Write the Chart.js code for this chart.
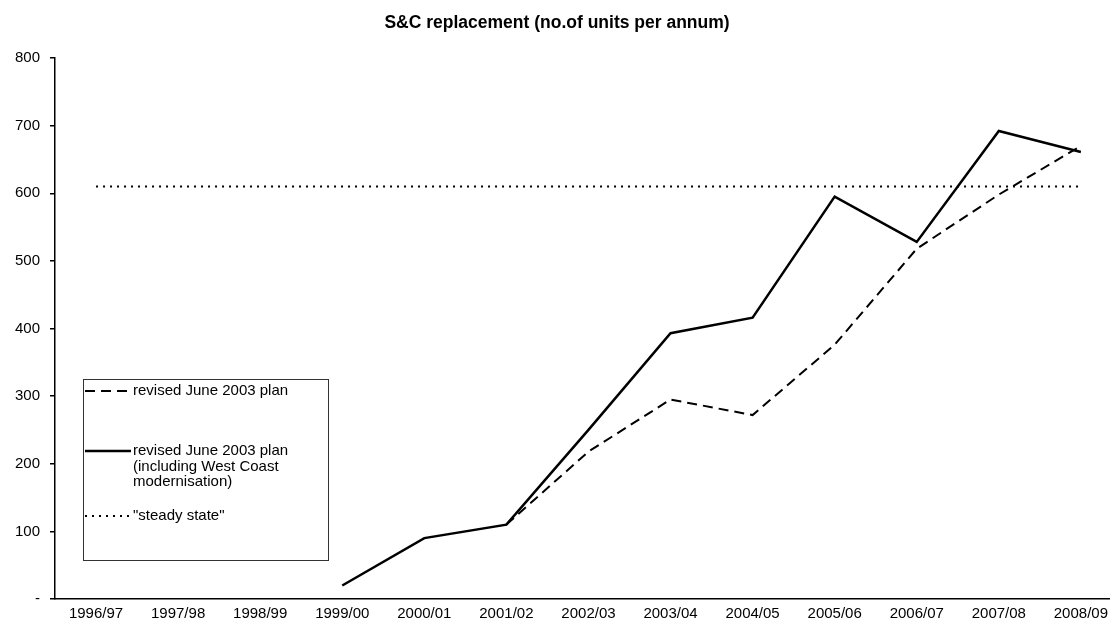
<!DOCTYPE html>
<html>
<head>
<meta charset="utf-8">
<script src="https://cdn.jsdelivr.net/npm/chart.js@4"></script>
<style>
  html, body { margin: 0; padding: 0; background: #fff; }
</style>
</head>
<body>
<canvas id="chart" width="1114" height="631"></canvas>
<script>
const years = ['1996/97', '1997/98', '1998/99', '1999/00', '2000/01', '2001/02', '2002/03',
  '2003/04', '2004/05', '2005/06', '2006/07', '2007/08', '2008/09'];
const revisedPlan = [null, null, null, null, null, 110, 218, 295, 272, 376, 518, 598, 670];
const revisedPlanWestCoast = [null, null, null, 20, 90, 110, 250, 393, 416, 595, 528, 692, 661];
const steadyState = [610, 610, 610, 610, 610, 610, 610, 610, 610, 610, 610, 610, 610];
const yTicks = [0, 100, 200, 300, 400, 500, 600, 700, 800];

const FONT = "'Liberation Sans', Arial, sans-serif";

function toPoints(values) {
  return values.map(function(v, i) { return {x: i, y: v}; });
}

function wrapText(ctx, text, maxWidth) {
  const words = text.split(' ');
  const lines = [];
  let line = '';
  words.forEach(function(w) {
    const test = line ? line + ' ' + w : w;
    if (line && ctx.measureText(test).width > maxWidth) {
      lines.push(line);
      line = w;
    } else {
      line = test;
    }
  });
  if (line) lines.push(line);
  return lines;
}

// boxed legend sitting inside the plot, lower left
const legendBox = {
  id: 'legendBox',
  afterDraw(chart) {
    const ctx = chart.ctx;
    const area = chart.chartArea;
    const left = area.left + 28;
    const top = area.top + 321;
    const w = 245, h = 181;
    const rows = [12, 72, 137];
    ctx.save();
    ctx.fillStyle = '#fff';
    ctx.fillRect(left, top, w, h);
    ctx.strokeStyle = '#333';
    ctx.lineWidth = 1;
    ctx.strokeRect(left + 0.5, top + 0.5, w, h);
    ctx.font = '15px ' + FONT;
    ctx.textBaseline = 'middle';
    chart.data.datasets.forEach(function(ds, i) {
      const y = top + rows[i];
      ctx.beginPath();
      ctx.setLineDash(ds.borderDash || []);
      ctx.lineWidth = ds.borderWidth;
      ctx.strokeStyle = ds.borderColor;
      ctx.moveTo(left + 2, y);
      ctx.lineTo(left + 48, y);
      ctx.stroke();
      ctx.setLineDash([]);
      ctx.fillStyle = '#000';
      wrapText(ctx, ds.label, 190).forEach(function(line, j) {
        ctx.fillText(line, left + 50, y + j * 15.5);
      });
    });
    ctx.restore();
  },
};

const ctx = document.getElementById('chart').getContext('2d');
const chart = new Chart(ctx, {
  type: 'line',
  data: {
    datasets: [
      {
        label: 'revised June 2003 plan',
        data: toPoints(revisedPlan),
        borderColor: '#000',
        borderWidth: 2,
        borderDash: [10, 6],
        pointRadius: 0,
      },
      {
        label: 'revised June 2003 plan (including West Coast modernisation)',
        data: toPoints(revisedPlanWestCoast),
        borderColor: '#000',
        borderWidth: 2.5,
        pointRadius: 0,
      },
      {
        label: '"steady state"',
        data: toPoints(steadyState),
        borderColor: '#000',
        borderWidth: 2,
        borderDash: [2, 5],
        pointRadius: 0,
      },
    ],
  },
  options: {
    responsive: false,
    animation: false,
    devicePixelRatio: 1,
    layout: {padding: 0},
    plugins: {
      legend: {display: false},
      tooltip: {enabled: false},
      title: {
        display: true,
        text: 'S&C replacement (no.of units per annum)',
        color: '#000',
        font: {family: FONT, size: 17.5, weight: 'bold'},
        padding: {top: 13, bottom: 24},
      },
    },
    scales: {
      x: {
        type: 'linear',
        min: -0.5,
        max: 12.35,
        afterBuildTicks: function(scale) {
          scale.ticks = years.map(function(_, i) { return {value: i}; });
        },
        afterFit: function(scale) { scale.height = 32; },
        grid: {display: false, drawTicks: false},
        border: {display: true, color: '#000', width: 1.5},
        ticks: {
          color: '#000',
          font: {family: FONT, size: 15},
          padding: 6,
          maxRotation: 0,
          autoSkip: false,
          callback: function(v) { return years[v] || ''; },
        },
      },
      y: {
        min: 0,
        max: 800,
        afterBuildTicks: function(scale) {
          scale.ticks = yTicks.map(function(v) { return {value: v}; });
        },
        afterFit: function(scale) { scale.width = 55; },
        grid: {drawOnChartArea: false, drawTicks: true, tickLength: 5, color: '#000', lineWidth: 1.5},
        border: {display: true, color: '#000', width: 1.5},
        ticks: {
          color: '#000',
          font: {family: FONT, size: 15},
          padding: 10,
          callback: function(v) { return v === 0 ? '-' : v; },
        },
      },
    },
  },
  plugins: [legendBox],
});
</script>
</body>
</html>
